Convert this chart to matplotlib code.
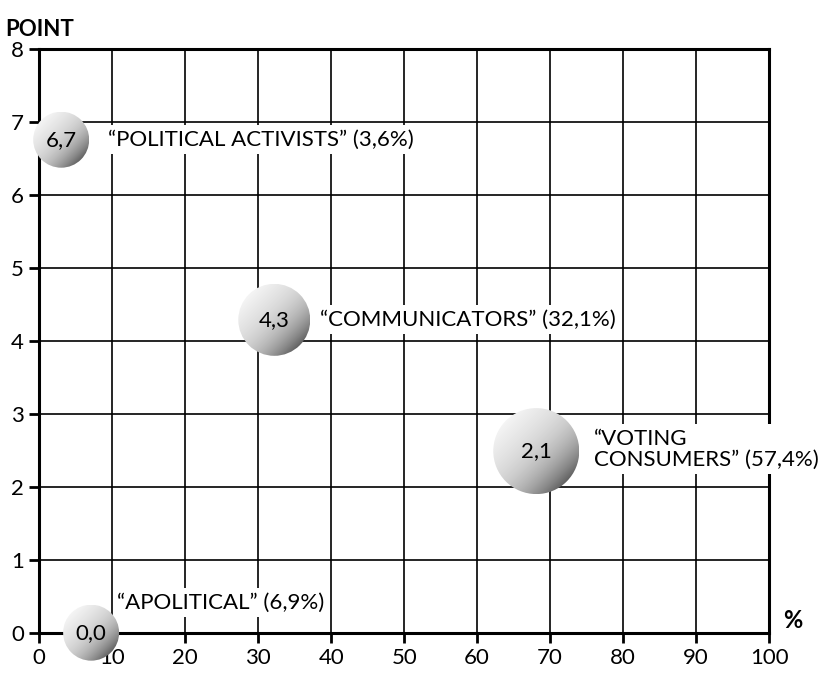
import matplotlib
matplotlib.use("Agg")
import matplotlib.pyplot as plt
import numpy as np
from matplotlib.patches import Circle

plt.rcParams["font.family"] = ["Lato", "DejaVu Sans"]

# bubble data
groups = ["“POLITICAL ACTIVISTS” (3,6%)",
          "“COMMUNICATORS” (32,1%)",
          "“VOTING\nCONSUMERS” (57,4%)",
          "“APOLITICAL” (6,9%)"]
points = ["6,7", "4,3", "2,1", "0,0"]
x_pos = [3.0, 32.2, 68.1, 7.1]
y_pos = [6.76, 4.29, 2.49, 0.0]
radius_px = [28, 36, 43, 28]

x_ticks = list(range(0, 101, 10))
y_ticks = list(range(0, 9))

fig = plt.figure(figsize=(8.19, 6.75), dpi=100)
ax = fig.add_axes([0.048, 0.0627, 0.891, 0.8643])
ax.set_xlim(0, 100)
ax.set_ylim(0, 8)
ax.set_xticks(x_ticks)
ax.set_yticks(y_ticks)
ax.grid(True, color="black", linewidth=1.2)
ax.set_axisbelow(True)
for s in ax.spines.values():
    s.set_linewidth(2.2)
ax.tick_params(direction="out", length=7, width=2, labelsize=16, pad=4)

# sphere shading: light top-left, dark bottom-right
gx, gy = np.meshgrid(np.linspace(-1, 1, 200), np.linspace(1, -1, 200))
d = (gx - gy) / 2 + 0.5
shade = 0.92 - 0.18 * d - 0.18 * d ** 3

# px per data unit
sx = ax.transData.transform((1, 0))[0] - ax.transData.transform((0, 0))[0]
sy = ax.transData.transform((0, 1))[1] - ax.transData.transform((0, 0))[1]

# label offsets in pixels (x, y) from bubble centre
label_off = [(47, 0), (46, 0), (58, 2), (26, 30)]

for i in range(len(x_pos)):
    r = radius_px[i]
    bx = ax.inset_axes([x_pos[i] - r / sx, y_pos[i] - r / sy, 2 * r / sx, 2 * r / sy],
                       transform=ax.transData, zorder=5)
    bx.set_xlim(-1, 1)
    bx.set_ylim(-1, 1)
    bx.axis("off")
    im = bx.imshow(shade, cmap="gray", vmin=0, vmax=1, extent=[-1, 1, -1, 1],
                   interpolation="bilinear", aspect="auto")
    im.set_clip_path(Circle((0, 0), 1, transform=bx.transData))
    ax.text(x_pos[i], y_pos[i], points[i], ha="center", va="center",
            fontsize=16, zorder=7, clip_on=False)
    ox, oy = label_off[i]
    ax.annotate(groups[i], (x_pos[i], y_pos[i]), xytext=(ox * 0.72, oy * 0.72),
                textcoords="offset points", ha="left", va="center", fontsize=16,
                zorder=4, linespacing=1.05,
                bbox=dict(boxstyle="square,pad=0.2", fc="white", ec="none"))

fig.text(0.006, 0.972, "POINT", fontsize=16, fontweight="bold", va="top")
fig.text(0.956, 0.063, "%", fontsize=17, fontweight="bold", va="bottom")

fig.savefig("out.png", dpi=100)
